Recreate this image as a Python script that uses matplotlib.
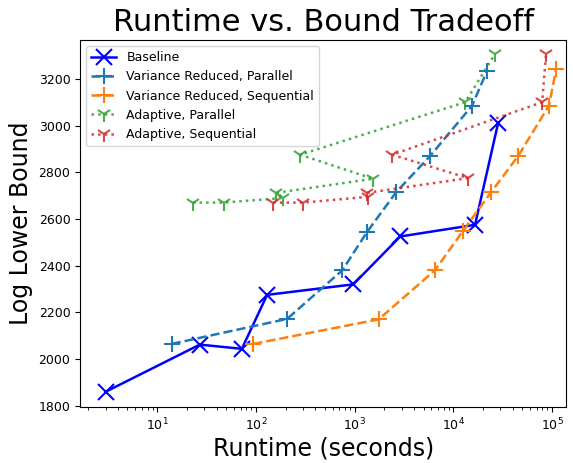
import matplotlib
matplotlib.use("Agg")
import matplotlib.pyplot as plt

# Data
baseline_x = [3, 27, 72, 130, 970, 2900, 16600, 28500]
baseline_y = [1860, 2062, 2044, 2275, 2320, 2525, 2575, 3012]

vr_par_x = [14, 207, 750, 1340, 2640, 5830, 15500, 22000]
vr_par_y = [2065, 2172, 2380, 2545, 2715, 2870, 3085, 3235]

vr_seq_x = [94, 1750, 6500, 12600, 24200, 45500, 93000, 110000]
vr_seq_y = [2065, 2170, 2380, 2550, 2715, 2870, 3085, 3240]

ad_par_x = [23, 47, 189, 161, 1540, 281, 13200, 26300]
ad_par_y = [2670, 2670, 2690, 2712, 2772, 2875, 3100, 3305]

ad_seq_x = [150, 301, 1375, 1343, 14100, 2400, 79500, 87000]
ad_seq_y = [2670, 2670, 2695, 2712, 2775, 2875, 3100, 3305]

labels = ["Baseline", "Variance Reduced, Parallel", "Variance Reduced, Sequential",
          "Adaptive, Parallel", "Adaptive, Sequential"]
yticks = [1800, 2000, 2200, 2400, 2600, 2800, 3000, 3200]

fig = plt.figure(figsize=(5.73, 4.63), dpi=100)
ax = fig.add_axes([0.14, 0.121, 0.848, 0.793])

ax.plot(baseline_x, baseline_y, color="blue", linestyle="-", marker="x",
        markersize=11, linewidth=1.8, markeredgewidth=1.5, label=labels[0])
ax.plot(vr_par_x, vr_par_y, color="C0", linestyle="--", marker="+",
        markersize=11, linewidth=1.8, markeredgewidth=1.5, label=labels[1])
ax.plot(vr_seq_x, vr_seq_y, color="C1", linestyle="--", marker="+",
        markersize=11, linewidth=1.8, markeredgewidth=1.5, label=labels[2])
ax.plot(ad_par_x, ad_par_y, color="C2", linestyle=":", marker="1",
        markersize=11, linewidth=1.8, markeredgewidth=1.5, alpha=0.85, label=labels[3])
ax.plot(ad_seq_x, ad_seq_y, color="C3", linestyle=":", marker="1",
        markersize=11, linewidth=1.8, markeredgewidth=1.5, alpha=0.85, label=labels[4])

ax.set_xscale("log")
ax.set_xlim(1.66, 1.39e5)
ax.set_ylim(1795, 3367)
ax.set_yticks(yticks)
ax.tick_params(labelsize=9)

ax.set_title("Runtime vs. Bound Tradeoff", fontsize=22)
ax.set_xlabel("Runtime (seconds)", fontsize=17, labelpad=2)
ax.set_ylabel("Log Lower Bound", fontsize=17)
ax.legend(loc="upper left", fontsize=9)

fig.savefig("out.png", dpi=100)
